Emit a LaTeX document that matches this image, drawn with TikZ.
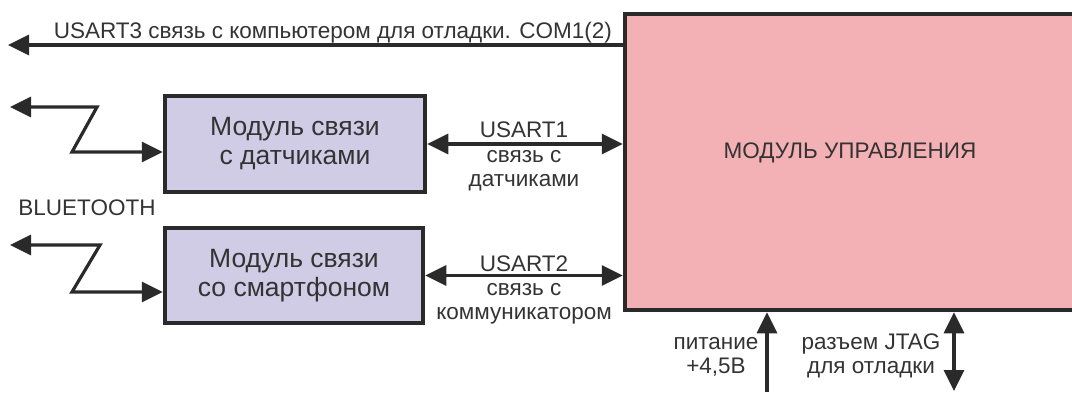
\documentclass[tikz,border=0pt]{standalone}
\usepackage{fontspec}
\setmainfont{Liberation Sans}
\usepackage{xcolor}
\usetikzlibrary{arrows.meta, positioning, calc}
\definecolor{linegray}{RGB}{42, 42, 42}
\definecolor{textgray}{RGB}{51, 51, 51}
\definecolor{modlilac}{RGB}{208, 204, 230}
\definecolor{mainpink}{RGB}{244, 177, 181}

\begin{document}
\begin{tikzpicture}[x=1pt, y=-1pt,
    modbox/.style={draw=linegray, line width=4.5pt, fill=modlilac,
      text=textgray, align=center, font=\fontsize{26.5}{29}\selectfont},
    link/.style={draw=linegray, line width=3.2pt,
      {Triangle[length=21pt, width=20pt]}-{Triangle[length=21pt, width=20pt]}},
    onelink/.style={draw=linegray, line width=3.2pt,
      -{Triangle[length=21pt, width=20pt]}},
    lbl/.style={text=textgray, align=center, inner sep=0pt,
      font=\fontsize{22.5}{24}\selectfont}]
  \useasboundingbox (0,0) rectangle (1072,392);

  % ── Blocks ────────────────────────────────────────────────────────────────
  \node[modbox, fill=mainpink, minimum width=450pt, minimum height=296pt,
    text depth=23pt, font=\fontsize{22.5}{24}\selectfont]
    (main) at (850,162) {МОДУЛЬ УПРАВЛЕНИЯ};
  \node[modbox, minimum width=260pt, minimum height=96pt]
    (sens) at (295,144) {Модуль связи\\с датчиками};
  \node[modbox, minimum width=258pt, minimum height=95pt]
    (phone) at (294,275.5) {Модуль связи\\со смартфоном};

  % ── USART3 to the computer ───────────────────────────────────────────────
  \coordinate (com) at (8,45);
  \draw[onelink] (main.west |- com) -- (com);
  \node[lbl, anchor=base east] (comlbl) at (612,38)
    {USART3 связь с компьютером для отладки. COM1(2)};

  % ── USART1 / USART2 links ────────────────────────────────────────────────
  \draw[link] (sens.east) -- (sens.east -| main.west);
  \node[lbl, anchor=base] (u1) at (524,137) {USART1};
  \node[lbl, anchor=base] (u1txt) at (524,186) {связь с\\датчиками};

  \draw[link] (phone.east) -- (phone.east -| main.west);
  \node[lbl, anchor=base] (u2) at (524,271) {USART2};
  \node[lbl, anchor=base] (u2txt) at (524,319) {связь с\\коммуникатором};

  % ── Bluetooth zigzags ────────────────────────────────────────────────────
  \coordinate (bt1) at (10,107);
  \coordinate (bt1end) at (0,152);
  \draw[link, line join=miter] (bt1) -- (97,107) -- (72,152)
    -- (sens.west |- bt1end);
  \coordinate (bt2) at (10,245);
  \coordinate (bt2end) at (0,292);
  \draw[link, line join=miter] (bt2) -- (100,245) -- (72,292)
    -- (phone.west |- bt2end);
  \node[lbl, anchor=base] (bt) at (87,215) {BLUETOOTH};

  % ── Power and JTAG ───────────────────────────────────────────────────────
  \coordinate (pwr) at (767,392);
  \draw[onelink] (pwr) -- (pwr |- main.south);
  \node[lbl, anchor=base] (pwrlbl) at (716,373) {питание\\+4,5В};

  \coordinate (jtag) at (954,391);
  \draw[link] (jtag |- main.south) -- (jtag);
  \node[lbl, anchor=base] (jtaglbl) at (871,373) {разъем JTAG\\для отладки};
\end{tikzpicture}
\end{document}
